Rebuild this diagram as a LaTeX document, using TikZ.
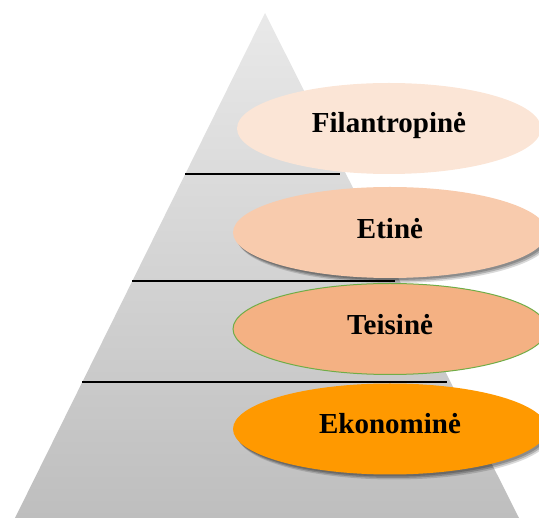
\documentclass[tikz,border=0pt]{standalone}
\usepackage{fontspec}
\setmainfont{Liberation Serif}
\usetikzlibrary{shapes.geometric,shadows}
\definecolor{pyrtop}{HTML}{E9E9E9}
\definecolor{pyrmid}{HTML}{DCDCDC}
\definecolor{pyrbot}{HTML}{BEBEBE}
\definecolor{cfil}{HTML}{FBE5D6}
\definecolor{cet}{HTML}{F8CBAD}
\definecolor{ctei}{HTML}{F4B183}
\definecolor{ceko}{HTML}{FF9900}
\definecolor{cgreen}{HTML}{70AD47}
\tikzset{
  oval/.style={ellipse, inner sep=0pt, minimum width=314pt, minimum height=91pt, draw=none},
  shad/.style={
    drop shadow={shadow xshift=4pt, shadow yshift=-5pt, opacity=0.15, fill=black},
    drop shadow={shadow xshift=3pt, shadow yshift=-3.5pt, opacity=0.2, fill=black},
    drop shadow={shadow xshift=2pt, shadow yshift=-2pt, opacity=0.2, fill=black}},
  lbl/.style={font=\bfseries\fontsize{29}{34}\selectfont, text=black, inner sep=0pt},
  tier/.style={line width=1.5pt, black}
}
\begin{document}
\begin{tikzpicture}[x=1pt,y=-1pt]
\useasboundingbox (0,0) rectangle (539,518);
\clip (0,0) rectangle (539,518);
% pyramid
\shade[top color=pyrtop, middle color=pyrmid, bottom color=pyrbot] (265,13) -- (519,518) -- (15,518) -- cycle;
% tier lines
\coordinate (l1a) at (185,174); \coordinate (l1b) at (340,174);
\coordinate (l2a) at (132,281); \coordinate (l2b) at (395,281);
\coordinate (l3a) at (82,382);  \coordinate (l3b) at (447,382);
\draw[tier] (l1a) -- (l1b);
\draw[tier] (l2a) -- (l2b);
\draw[tier] (l3a) -- (l3b);
% ellipses
\node[oval, fill=cfil, minimum width=304pt] (e1) at (389,128.5) {};
\node[oval, fill=cet, shad] (e2) at (390,232.5) {};
\node[oval, fill=ctei, draw=cgreen, line width=1pt, minimum height=91pt] (e3) at (390,329) {};
\node[oval, fill=ceko, shad] (e4) at (390,429) {};
% labels
\node[lbl] (t1) at ([yshift=3pt]e1.center) {Filantropinė};
\node[lbl] (t2) at ([yshift=4pt]e2.center) {Etinė};
\node[lbl] (t3) at ([yshift=4pt]e3.center) {Teisinė};
\node[lbl] (t4) at ([yshift=5pt]e4.center) {Ekonominė};
\end{tikzpicture}
\end{document}
